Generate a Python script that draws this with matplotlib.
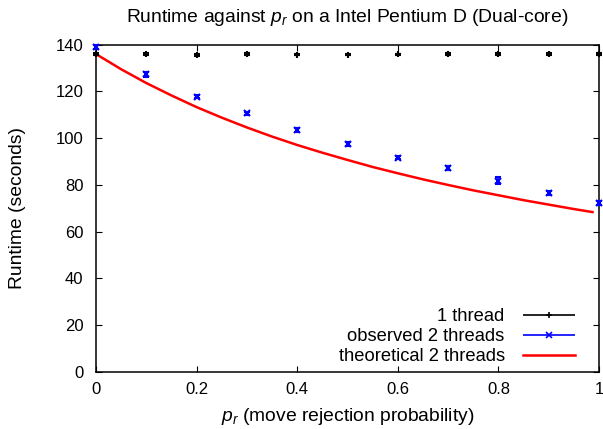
import numpy as np
import matplotlib
matplotlib.use("Agg")
import matplotlib.pyplot as plt
from matplotlib.legend_handler import HandlerErrorbar

plt.rcParams['font.family'] = ['Liberation Sans', 'DejaVu Sans']
plt.rcParams['mathtext.fontset'] = 'custom'
plt.rcParams['mathtext.rm'] = 'Liberation Sans'
plt.rcParams['mathtext.it'] = 'Liberation Sans:italic'

# data
p_r = [0.0, 0.1, 0.2, 0.3, 0.4, 0.5, 0.6, 0.7, 0.8, 0.9, 1.0]
one_thread = [136.0, 136.0, 135.6, 136.0, 135.8, 135.8, 135.9, 136.0, 136.0, 136.0, 136.0]
one_thread_err = [0.4, 0.3, 0.4, 0.3, 0.4, 0.3, 0.3, 0.3, 0.3, 0.3, 0.4]
two_threads = [139.0, 127.3, 117.8, 110.6, 103.6, 97.5, 91.7, 87.1, 81.8, 76.4, 72.2]
two_threads_err = [1.0, 1.0, 0.8, 0.8, 0.8, 0.8, 0.8, 0.9, 1.4, 0.9, 0.8]
theory_p = [0.0, 0.05, 0.1, 0.15, 0.2, 0.25, 0.3, 0.35, 0.4, 0.45, 0.5,
            0.55, 0.6, 0.65, 0.7, 0.75, 0.8, 0.85, 0.9, 0.95, 0.987]
theory = [136.0, 129.5, 123.6, 118.3, 113.3, 108.8, 104.6, 100.7, 97.1, 93.8, 90.7,
          87.7, 85.0, 82.4, 80.0, 77.7, 75.6, 73.5, 71.6, 69.7, 68.4]

fig = plt.figure(figsize=(6.03, 4.29), dpi=100)
ax = fig.add_axes([0.1592, 0.1329, 0.8342, 0.7629])

ax.errorbar(p_r, one_thread, yerr=one_thread_err, fmt='+', color='black',
            ms=5, mew=1.5, elinewidth=1.2, capsize=2, capthick=1.2, clip_on=False, zorder=3)
ax.errorbar(p_r, two_threads, yerr=two_threads_err, fmt='x', color='#0000ff',
            ms=4, mew=1.5, elinewidth=1.2, capsize=2.5, capthick=1.2, clip_on=False, zorder=3)
ax.plot(theory_p, theory, color='#ff0000', lw=1.8, zorder=2)

# legend proxies drawn like gnuplot (horizontal bar with caps)
h1 = ax.errorbar([], [], xerr=[], fmt='+', color='black', ms=5, mew=1.2,
                 elinewidth=1.2, capsize=3, capthick=1.2)
h2 = ax.errorbar([], [], xerr=[], fmt='x', color='#0000ff', ms=4, mew=1.2,
                 elinewidth=1.2, capsize=3, capthick=1.2)
h3, = ax.plot([], [], color='#ff0000', lw=1.8)
leg = ax.legend([h1, h2, h3], ['1 thread', 'observed 2 threads', 'theoretical 2 threads'],
                loc='lower right', frameon=False, markerfirst=False, fontsize=13.2,
                handlelength=2.85, handletextpad=1.0, labelspacing=0.16,
                borderaxespad=0.0, borderpad=0.2, bbox_to_anchor=(0.96, 0.01),
                handler_map={type(h1): HandlerErrorbar(xerr_size=1.42)})

ax.set_xlim(0, 1)
ax.set_ylim(0, 140)
ax.set_xticks([0, 0.2, 0.4, 0.6, 0.8, 1.0])
ax.set_xticklabels(['0', '0.2', '0.4', '0.6', '0.8', '1'])
ax.set_yticks(np.arange(0, 141, 20))
ax.tick_params(direction='in', top=True, right=True, length=4, width=0.8,
               labelsize=12, pad=7)
ax.tick_params(axis='y', pad=9)
for s in ax.spines.values():
    s.set_linewidth(1.1)

ax.set_title('Runtime against $p_r$ on a Intel Pentium D (Dual-core)', fontsize=13.9, pad=16)
ax.set_xlabel('$p_r$ (move rejection probability)', fontsize=13.9, labelpad=7)
ax.set_ylabel('Runtime (seconds)', fontsize=13.9, labelpad=21)

fig.savefig('out.png', dpi=100)
